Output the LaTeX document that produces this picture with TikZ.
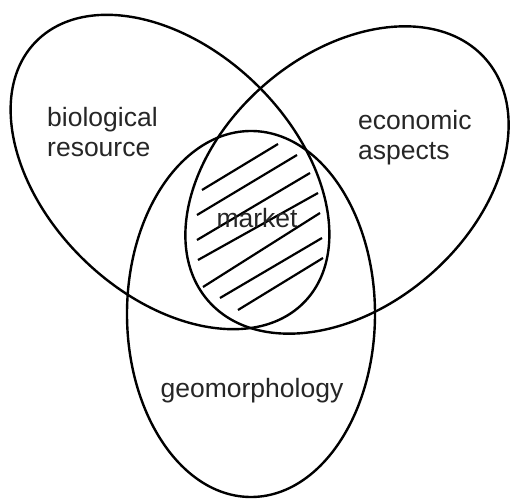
\documentclass[tikz,border=0pt]{standalone}
\usepackage{fontspec}
\setmainfont{Liberation Sans}
\begin{document}
\begin{tikzpicture}[x=1pt, y=-1pt,
    set/.style={line width=2.4pt},
    hatch/.style={line width=2.2pt},
    lbl/.style={inner sep=0pt, text=black!85, font=\fontsize{26.5}{30}\selectfont}]
    \useasboundingbox (0,0) rectangle (523,500);

    % the three sets
    \draw [set, shift={(170,172)}, rotate=-44] (0,0) ellipse [x radius=187, y radius=123];
    \draw [set, shift={(347,180)}, rotate=41] (0,0) ellipse [x radius=184, y radius=126];
    \draw [set] (251,314) ellipse [x radius=124, y radius=183];

    % hatching of the market
    \foreach \xa/\ya/\xb/\yb in {202/190/278/144, 197/215/297/155, 197/240/310/173,
        198/260/318/193, 203/287/320/213, 220/298/322/238, 238/310/323/258}
        \draw [hatch] (\xa,\ya) -- (\xb,\yb);

    \node [lbl, align=left, anchor=west] (bio) at (47,132) {biological\\resource};
    \node [lbl, align=left, anchor=west] (eco) at (358,138) {economic\\aspects};
    \node [lbl, anchor=base] (geo) at (252,398) {geomorphology};
    \node [lbl, anchor=base] (mkt) at (257,228) {market};
\end{tikzpicture}
\end{document}
